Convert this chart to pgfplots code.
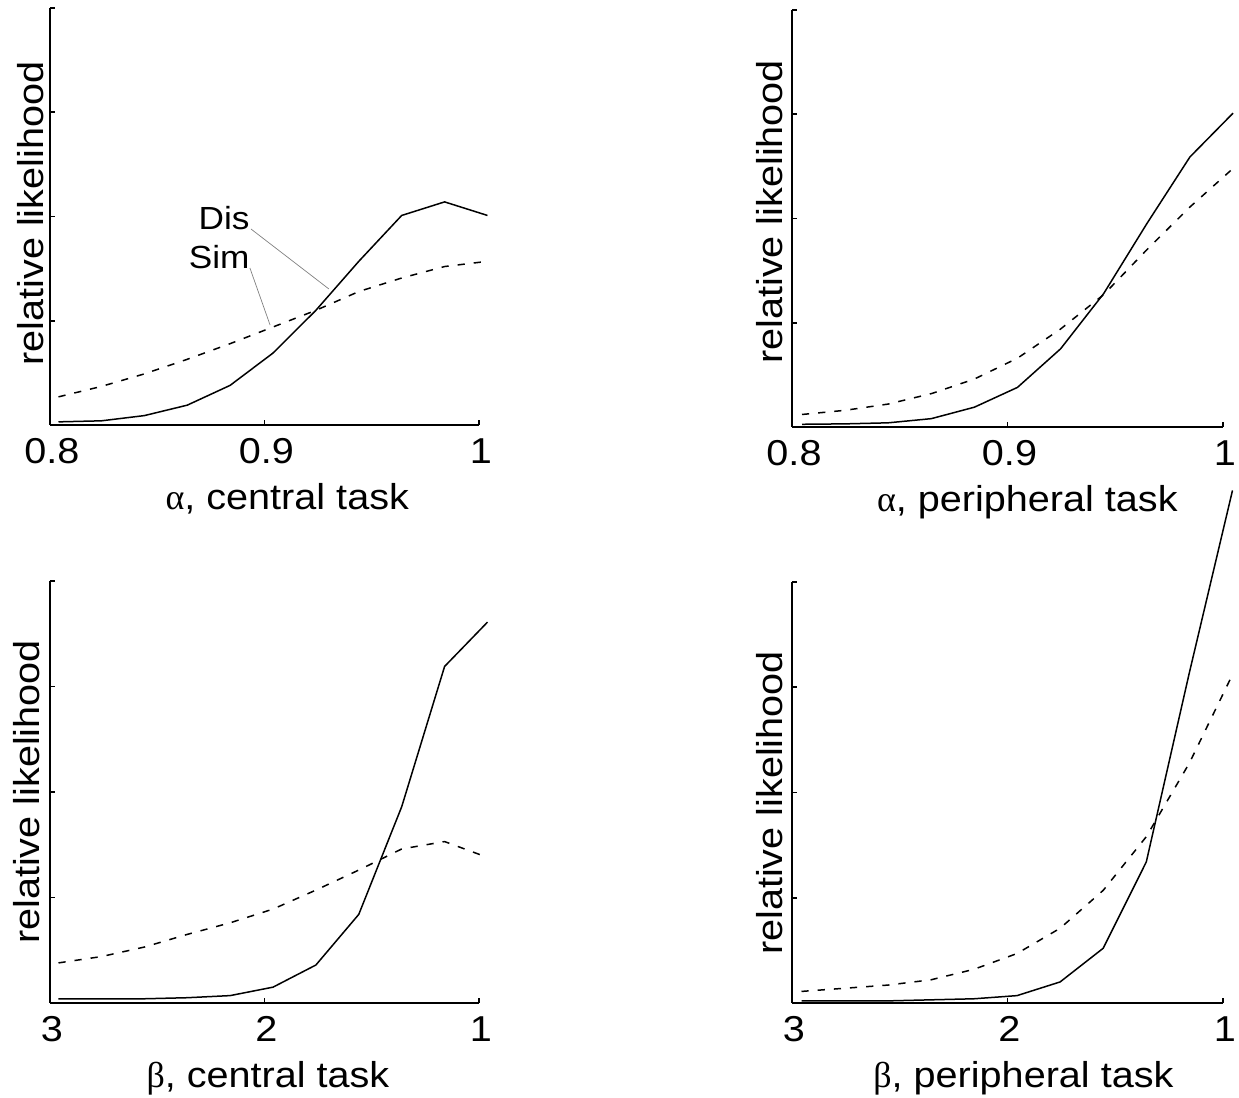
\documentclass[border=0pt]{standalone}
\usepackage{fontspec}
\setmainfont{Liberation Sans}[FakeStretch=1.1]
\newfontfamily\greekfont{Liberation Serif}
\usepackage{pgfplots}
\usepackage{pgfplotstable}
\pgfplotsset{compat=1.18}

% relative likelihood of the two models (Dis, Sim) over each parameter
\pgfplotstableread{
x     dis    sim
0.80  0.03   0.27
0.82  0.04   0.37
0.84  0.09   0.49
0.86  0.19   0.63
0.88  0.38   0.78
0.90  0.69   0.94
0.92  1.10   1.10
0.94  1.57   1.28
0.96  2.01   1.41
0.98  2.14   1.52
1.00  2.01   1.57
}\alphacentral
\pgfplotstableread{
x     dis    sim
0.80  0.026  0.12
0.82  0.03   0.16
0.84  0.04   0.22
0.86  0.08   0.32
0.88  0.19   0.46
0.90  0.38   0.66
0.92  0.75   0.94
0.94  1.28   1.27
0.96  1.95   1.70
0.98  2.59   2.11
1.00  3.01   2.48
}\alphaperipheral
\pgfplotstableread{
x     dis    sim
3.0   0.04   0.38
2.8   0.04   0.44
2.6   0.04   0.53
2.4   0.05   0.65
2.2   0.07   0.76
2.0   0.15   0.89
1.8   0.36   1.07
1.6   0.84   1.26
1.4   1.86   1.46
1.2   3.19   1.53
1.0   3.61   1.38
}\betacentral
\pgfplotstableread{
x     dis    sim
3.0   0.02   0.11
2.8   0.02   0.14
2.6   0.02   0.17
2.4   0.03   0.22
2.2   0.04   0.32
2.0   0.07   0.47
1.8   0.20   0.71
1.6   0.52   1.07
1.4   1.34   1.58
1.2   3.14   2.28
1.0   4.87   3.12
}\betaperipheral

\pgfplotsset{
  lik/.style={
    scale only axis,
    axis x line*=bottom, axis y line*=left,
    axis line style={line width=0.9pt, black},
    tick align=inside, major tick length=2.5pt,
    tick style={line width=0.8pt, black},
    ymin=0, ymax=4, ytick={0,1,2,3,4}, yticklabels={},
    clip=false,
    /pgf/number format/assume math mode=true,
    ticklabel style={font=\fontsize{18}{20}\selectfont},
    label style={font=\fontsize{18}{20}\selectfont},
    xticklabel style={anchor=base, yshift=-19.5pt, xshift=1pt},
    ylabel={relative likelihood},
  },
  dis/.style={black, line width=0.75pt},
  sim/.style={black, line width=0.75pt, dash pattern=on 3.6pt off 4.5pt},
}

\begin{document}
\begin{tikzpicture}
\useasboundingbox (0,0) rectangle (619.5pt,549pt);

% alpha, central task
\begin{axis}[lik, at={(25pt,336.5pt)}, anchor=south west,
  width=214.5pt, height=208.5pt,
  xmin=0.8, xmax=1.0, xtick={0.8,0.9,1}, xticklabels={0.8,0.9,1},
  xlabel={{\greekfont α}, central task},
  xlabel style={at={(axis description cs:0.553,0)}, anchor=base, yshift=-42.5pt},
  ylabel style={at={(axis description cs:-0.0163,0.507)}, anchor=base}]
  \addplot[dis, xshift=4.25pt] table[x=x, y=dis] {\alphacentral};
  \addplot[sim, xshift=4.25pt] table[x=x, y=sim] {\alphacentral};
  \node[anchor=east, inner sep=0pt, font=\fontsize{16}{18}\selectfont] at (axis cs:0.8932,1.986) {Dis};
  \node[anchor=east, inner sep=0pt, font=\fontsize{16}{18}\selectfont] at (axis cs:0.8932,1.61) {Sim};
  \draw[gray, line width=0.35pt] (axis cs:0.8937,1.88) -- (axis cs:0.930,1.305);
  \draw[gray, line width=0.35pt] (axis cs:0.8932,1.506) -- (axis cs:0.9026,0.959);
\end{axis}

% alpha, peripheral task
\begin{axis}[lik, at={(396pt,335.5pt)}, anchor=south west,
  width=215.5pt, height=208.5pt,
  xmin=0.8, xmax=1.0, xtick={0.8,0.9,1}, xticklabels={0.8,0.9,1},
  xlabel={{\greekfont α}, peripheral task},
  xlabel style={at={(axis description cs:0.546,0)}, anchor=base, yshift=-42.5pt},
  ylabel style={at={(axis description cs:-0.0209,0.516)}, anchor=base}]
  \addplot[dis, xshift=5pt] table[x=x, y=dis] {\alphaperipheral};
  \addplot[sim, xshift=5pt] table[x=x, y=sim] {\alphaperipheral};
\end{axis}

% beta, central task
\begin{axis}[lik, at={(25pt,47.5pt)}, anchor=south west,
  width=214.5pt, height=211pt,
  x dir=reverse, xmin=1, xmax=3, xtick={1,2,3}, xticklabels={1,2,3},
  xlabel={{\greekfont β}, central task},
  xlabel style={at={(axis description cs:0.508,0)}, anchor=base, yshift=-42.5pt},
  ylabel style={at={(axis description cs:-0.0256,0.5)}, anchor=base}]
  \addplot[dis, xshift=4.25pt] table[x=x, y=dis] {\betacentral};
  \addplot[sim, xshift=4.25pt] table[x=x, y=sim] {\betacentral};
\end{axis}

% beta, peripheral task
\begin{axis}[lik, at={(396pt,47.5pt)}, anchor=south west,
  width=215.5pt, height=210.5pt,
  x dir=reverse, xmin=1, xmax=3, xtick={1,2,3}, xticklabels={1,2,3},
  xlabel={{\greekfont β}, peripheral task},
  xlabel style={at={(axis description cs:0.537,0)}, anchor=base, yshift=-42.5pt},
  ylabel style={at={(axis description cs:-0.0209,0.475)}, anchor=base}]
  \addplot[dis, xshift=4.75pt] table[x=x, y=dis] {\betaperipheral};
  \addplot[sim, xshift=4.75pt] table[x=x, y=sim] {\betaperipheral};
\end{axis}
\end{tikzpicture}
\end{document}
